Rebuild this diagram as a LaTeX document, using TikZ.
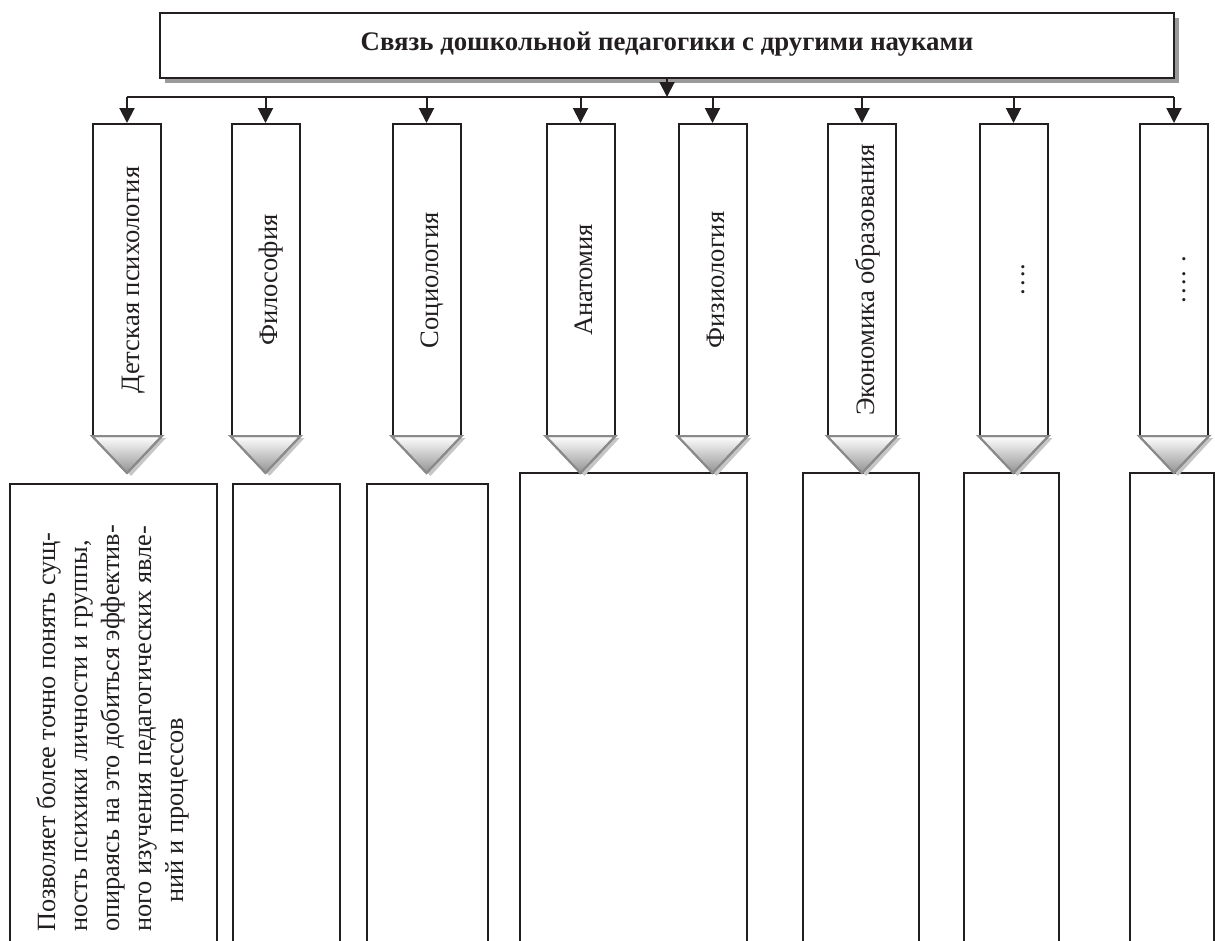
\documentclass[tikz,border=0pt]{standalone}
\usepackage{fontspec}
\setmainfont{Liberation Serif}
\usetikzlibrary{arrows.meta}
\definecolor{ink}{HTML}{231F20}
\definecolor{trigray}{HTML}{8A8A8A}
\definecolor{trishadow}{HTML}{C6C6C6}
\definecolor{boxshadow}{HTML}{9A9A9A}
\tikzset{
  linebox/.style={draw=ink, line width=2pt, fill=white, inner sep=0pt},
  colbox/.style={linebox, minimum width=68pt, minimum height=312pt},
  lowbox/.style={linebox, anchor=north west, minimum height=480pt},
  arr/.style={draw=ink, line width=2pt, -{Triangle[length=15pt,width=15pt]}},
  collabel/.style={rotate=90, anchor=base, inner sep=0pt, text=ink,
    font=\fontsize{26.6}{32}\selectfont},
  bodytext/.style={rotate=90, anchor=base west, align=left, inner sep=0pt, text=ink,
    font=\fontsize{26.3}{32}\selectfont},
  tipshadow/.style={fill=trishadow},
  tipshape/.style={draw=trigray, line width=2pt, top color=white, bottom color=gray!85, line join=miter},
}
\begin{document}
\begin{tikzpicture}[x=1pt,y=-1pt]
\useasboundingbox (0,0) rectangle (1215,940);
\fill[white] (0,0) rectangle (1215,940);
\begin{scope}
\clip (0,0) rectangle (1215,940);
% title box with shadow
\fill[boxshadow] (165,18) rectangle (1179,83);
\node[linebox, minimum width=1014pt, minimum height=65pt, text height=18pt, text depth=9pt,
      text=ink, font=\bfseries\fontsize{26.8}{32}\selectfont] (top) at (667,45.5)
      {Связь дошкольной педагогики с другими науками};
% bus
\coordinate (busL) at (127,97);
\coordinate (busR) at (1174,97);
\draw[ink, line width=2pt] (busL) -- (busR);
\draw[arr] (top.south) -- (top.south |- busL);
% lower boxes
\node[lowbox, minimum width=207pt] (d1) at (9,483) {};
\node[lowbox, minimum width=107pt] (d2) at (232,483) {};
\node[lowbox, minimum width=121pt] (d3) at (366,483) {};
\node[lowbox, minimum width=227pt] (d4) at (519,472) {};
\node[lowbox, minimum width=116pt] (d5) at (802,472) {};
\node[lowbox, minimum width=95pt] (d6) at (963,472) {};
\node[lowbox, minimum width=84pt] (d7) at (1129,472) {};
% columns
\foreach \i/\x in {1/127,2/265.5,3/426.5,4/580.5,5/712.5,6/862,7/1013.5,8/1174}{
  \node[colbox] (c\i) at (\x,280) {};
  \draw[arr] (c\i.north |- busL) -- (c\i.north);
  \fill[tipshadow] (\x-30,438) -- (\x+39,438) -- (\x+4,476) -- cycle;
  \shade[tipshape] (\x-35,436) -- (\x+35,436) -- (\x,473) -- cycle;
  \draw[trigray, line width=2pt, line join=miter] (\x-35,436) -- (\x+35,436) -- (\x,473) -- cycle;
}
% labels
\node[collabel] (l1) at (139,280) {Детская психология};
\node[collabel] (l2) at (277.5,280) {Философия};
\node[collabel] (l3) at (438.5,280) {Социология};
\node[collabel] (l4) at (592.5,280) {Анатомия};
\node[collabel] (l5) at (724.5,280) {Физиология};
\node[collabel] (l6) at (874,280) {Экономика образования};
\node[collabel] (l7) at (1024,280) {….};
\node[collabel] (l8) at (1185,280) {…. .};
% body text (base anchor = baseline of the last line)
\node[bodytext] (t1) at (183,932) {Позволяет более точно понять сущ-\\ность психики личности и группы,\\опираясь на это добиться эффектив-\\ного изучения педагогических явле-\\\hspace*{29pt}ний и процессов};
\end{scope}
\end{tikzpicture}
\end{document}
